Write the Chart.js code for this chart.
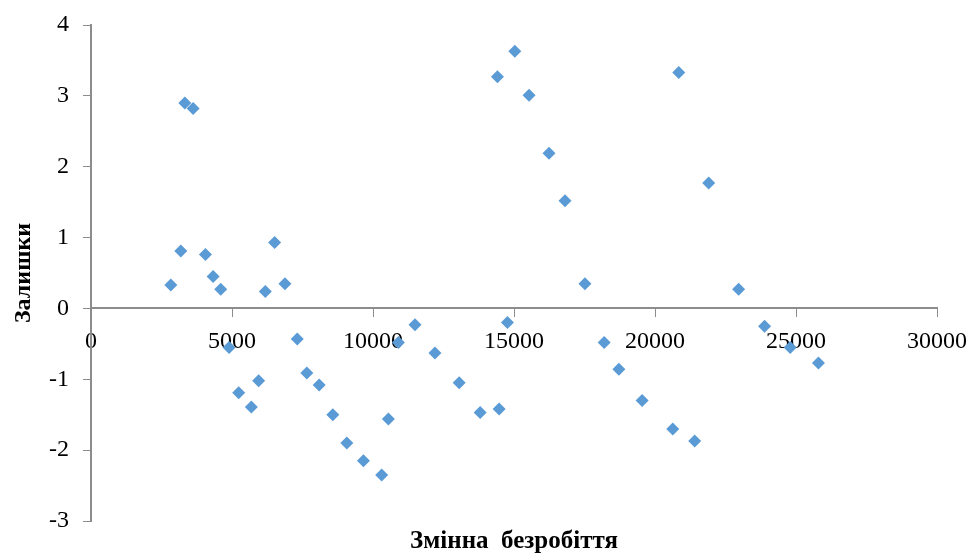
<!DOCTYPE html>
<html>
<head>
<meta charset="utf-8">
<script src="https://cdn.jsdelivr.net/npm/chart.js@4"></script>
<style>
    html, body { margin: 0; padding: 0; background: #fff; }
    .chart-box { width: 978px; height: 557px; }
</style>
</head>
<body>
<div class="chart-box"><canvas class="resid-chart"></canvas></div>
<script>
// Unemployment variable (x) and residuals (y)
const unemployment = [
    2830, 3185, 3326, 3621, 4058, 4330, 4600, 4895, 5237, 5686,
    5945, 6182, 6511, 6877, 7314, 7654, 8092, 8575, 9071, 9660,
    10309, 10545, 10899, 11490, 12197, 13057, 13800, 14413, 14473, 14767,
    15028, 15534, 16242, 16808, 17516, 18199, 18719, 19544, 20630, 20842,
    21408, 21904, 22965, 23885, 24794, 25796
];
const residuals = [
    0.33, 0.81, 2.90, 2.82, 0.76, 0.45, 0.27, -0.55, -1.19, -1.39,
    -1.02, 0.24, 0.93, 0.35, -0.43, -0.91, -1.08, -1.50, -1.90, -2.15,
    -2.35, -1.56, -0.48, -0.23, -0.63, -1.05, -1.47, 3.27, -1.42, -0.20,
    3.63, 3.01, 2.19, 1.52, 0.35, -0.48, -0.86, -1.30, -1.70, 3.33,
    -1.87, 1.77, 0.27, -0.25, -0.55, -0.77
];
const xTitle = 'Змінна  безробіття';
const yTitle = 'Залишки';

const ctx = document.querySelector('.resid-chart');
const axisGray = '#8c8c8c';
const serif = "'Liberation Serif', 'Times New Roman', serif";

new Chart(ctx, {
    type: 'scatter',
    data: {
        datasets: [{
            label: yTitle,
            data: unemployment.map((x, i) => ({ x: x, y: residuals[i] })),
            pointStyle: 'rectRot',
            pointRadius: 6.5,
            pointHoverRadius: 6.5,
            backgroundColor: '#5B9BD5',
            borderWidth: 0
        }]
    },
    options: {
        responsive: true,
        maintainAspectRatio: false,
        animation: false,
        layout: {
            padding: { top: 25, right: 39, bottom: 36, left: 0 }
        },
        scales: {
            x: {
                type: 'linear',
                position: { y: 0 },
                min: 0,
                max: 30000,
                ticks: {
                    stepSize: 5000,
                    color: '#000',
                    padding: 11,
                    font: { family: serif, size: 24 },
                    callback: (v) => String(v)
                },
                grid: {
                    drawOnChartArea: false,
                    tickLength: 8,
                    color: axisGray
                },
                border: { color: axisGray, width: 2 }
            },
            y: {
                min: -3,
                max: 4,
                afterFit: function (scale) {
                    scale.width = 91;
                    scale.paddingTop = 0;
                    scale.paddingBottom = 0;
                },
                ticks: {
                    stepSize: 1,
                    color: '#000',
                    padding: 14,
                    font: { family: serif, size: 24 }
                },
                grid: {
                    drawOnChartArea: false,
                    tickLength: 8,
                    color: axisGray
                },
                border: { color: axisGray, width: 2 }
            }
        },
        plugins: {
            legend: { display: false },
            tooltip: { enabled: false }
        }
    },
    plugins: [{
        // axis titles drawn by hand so they sit centred on the plot like the original
        id: 'axisTitles',
        afterDraw(chart) {
            const area = chart.chartArea;
            const c = chart.ctx;
            c.save();
            c.fillStyle = '#000';
            c.textAlign = 'center';
            c.textBaseline = 'middle';
            c.font = 'bold 25px ' + serif;
            c.fillText(xTitle, (area.left + area.right) / 2, 542);
            c.translate(24, (area.top + area.bottom) / 2);
            c.rotate(-Math.PI / 2);
            c.font = 'bold 24px ' + serif;
            c.fillText(yTitle, 0, 0);
            c.restore();
        }
    }]
});
</script>
</body>
</html>
